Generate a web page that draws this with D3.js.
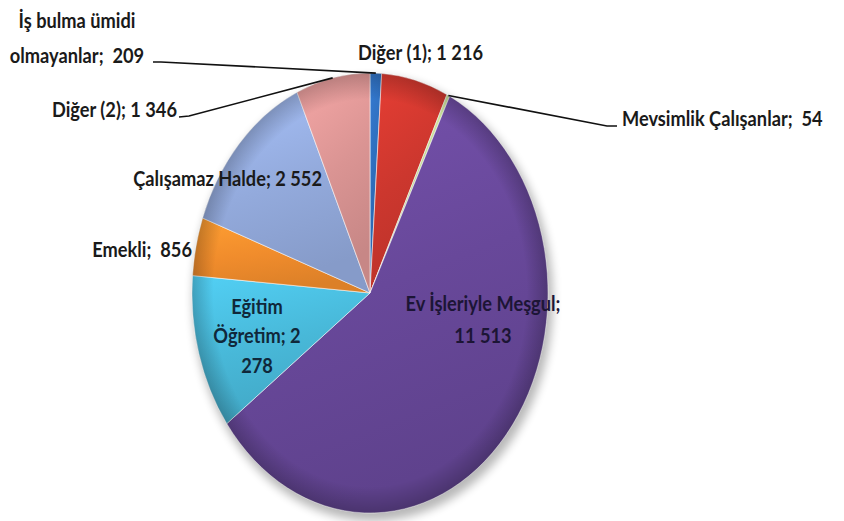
<!DOCTYPE html>
<html><head><meta charset="utf-8">
<script src="https://cdn.jsdelivr.net/npm/d3@7"></script>
<style>body{margin:0;background:#fff}svg{display:block}text{white-space:pre}</style>
</head><body><svg id="c" width="844" height="521"></svg>
<script>
// ---- data ----
const categories = ["İş bulma ümidi olmayanlar","Diğer (1)","Mevsimlik Çalışanlar","Ev İşleriyle Meşgul","Eğitim Öğretim","Emekli","Çalışamaz Halde","Diğer (2)"];
const values = [209, 1216, 54, 11513, 2278, 856, 2552, 1346];
const labelLines = [
  ["İş bulma ümidi","olmayanlar;  209"],
  ["Diğer (1); 1 216"],
  ["Mevsimlik Çalışanlar;  54"],
  ["Ev İşleriyle Meşgul;","11 513"],
  ["Eğitim","Öğretim; 2","278"],
  ["Emekli;  856"],
  ["Çalışamaz Halde; 2 552"],
  ["Diğer (2); 1 346"]
];
const colors = ["#2E6DBA","#CC372E","#C4DA96","#68489A","#48B8D8","#F08C2C","#93AADC","#DA9493"];

// ---- layout ----
const W = 844, H = 521;
const cx = 370, cy = 293, rx = 178, ry = 220, R = 100;
const fontSize = 20.5, sx = 0.89;
const labelPos = [
  {x:77,  y:28,  lh:35, anchor:"middle", leader:[[153,62],[161,62]]},
  {x:358, y:60,  lh:0,  anchor:"start"},
  {x:622, y:126, lh:0,  anchor:"start", leader:[[607,126],[617,126]], leaderFromPie:true},
  {x:483, y:311, lh:32, anchor:"middle"},
  {x:257, y:314, lh:29.5, anchor:"middle"},
  {x:192, y:257, lh:0,  anchor:"end"},
  {x:322, y:186, lh:0,  anchor:"end"},
  {x:177, y:117, lh:0,  anchor:"end", leader:[[179,117],[189,116]]}
];

const svg = d3.select("#c");
const defs = svg.append("defs");

const shadow = defs.append("filter").attr("id","shadow").attr("x","-20%").attr("y","-20%").attr("width","140%").attr("height","140%");
shadow.append("feGaussianBlur").attr("stdDeviation",5);

colors.forEach((c,i)=>{
  const g = defs.append("linearGradient").attr("id","g"+i).attr("x1",0).attr("y1",0).attr("x2",0.3).attr("y2",1);
  g.append("stop").attr("offset","0%").attr("stop-color", d3.color(c).brighter(0.35));
  g.append("stop").attr("offset","55%").attr("stop-color", c);
  g.append("stop").attr("offset","100%").attr("stop-color", d3.color(c).darker(0.25));
});
const rim = defs.append("radialGradient").attr("id","rim");
rim.append("stop").attr("offset","0%").attr("stop-color","#000").attr("stop-opacity",0);
rim.append("stop").attr("offset","88%").attr("stop-color","#000").attr("stop-opacity",0);
rim.append("stop").attr("offset","100%").attr("stop-color","#000").attr("stop-opacity",0.22);

// shadow
svg.append("ellipse").attr("cx",cx+3).attr("cy",cy+6).attr("rx",rx+2).attr("ry",ry+2)
  .attr("fill","#000").attr("opacity",0.28).attr("filter","url(#shadow)");

const pie = d3.pie().sort(null).value(d=>d).startAngle(0).endAngle(2*Math.PI);
const arcs = pie(values);
const arc = d3.arc().innerRadius(0).outerRadius(R);

const g = svg.append("g").attr("transform",`translate(${cx},${cy}) scale(${rx/R},${ry/R})`);
g.selectAll("path.slice").data(arcs).join("path").attr("class","slice")
  .attr("d", arc)
  .attr("fill",(d,i)=>`url(#g${i})`)
  .attr("stroke","rgba(255,255,255,0.55)")
  .attr("stroke-width",1)
  .attr("vector-effect","non-scaling-stroke");
g.append("circle").attr("r",R).attr("fill","url(#rim)").attr("pointer-events","none");

const edgePt = a => [cx + rx*Math.sin(a), cy - ry*Math.cos(a)];

// leaders
const line = d3.line();
arcs.forEach((d,i)=>{
  const p = labelPos[i];
  if(!p.leader) return;
  const mid = (d.startAngle+d.endAngle)/2;
  const e = edgePt(mid);
  const pts = p.leaderFromPie ? [e, ...p.leader] : [...p.leader, e];
  svg.append("path").attr("d", line(pts)).attr("fill","none").attr("stroke","#111").attr("stroke-width",1.6);
});

// labels
arcs.forEach((d,i)=>{
  const p = labelPos[i];
  const t = svg.append("text")
    .attr("transform",`translate(${p.x},${p.y}) scale(${sx},1)`)
    .attr("text-anchor",p.anchor)
    .attr("font-family","Lato, 'Open Sans', sans-serif")
    .attr("font-weight",700)
    .attr("font-size",fontSize)
    .attr("fill", i===3 ? "#1c1535" : (i===4 ? "#10283a" : "#1a1a1a"));
  labelLines[i].forEach((s,k)=>{
    t.append("tspan").attr("x",0).attr("y",k*p.lh).text(s);
  });
});
</script></body></html>
